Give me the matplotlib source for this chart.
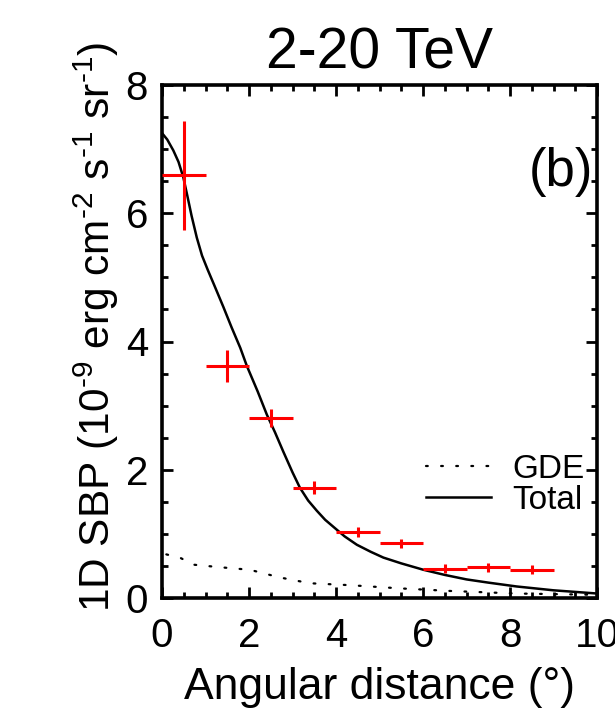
import matplotlib
matplotlib.use("Agg")
import matplotlib.pyplot as plt
from matplotlib.ticker import MultipleLocator

plt.rcParams['font.family'] = ['Liberation Sans', 'DejaVu Sans']
plt.rcParams['mathtext.fontset'] = 'custom'
plt.rcParams['mathtext.rm'] = 'Liberation Sans'
plt.rcParams['mathtext.it'] = 'Liberation Sans'

# Measured surface brightness profile (bin centres, half widths, values, errors)
data_x = [0.5, 1.5, 2.5, 3.5, 4.5, 5.5, 6.5, 7.5, 8.5]
data_xerr = [0.5, 0.5, 0.5, 0.5, 0.5, 0.5, 0.5, 0.5, 0.5]
data_y = [6.59, 3.62, 2.81, 1.72, 1.03, 0.85, 0.46, 0.48, 0.44]
data_yerr = [0.85, 0.25, 0.14, 0.10, 0.08, 0.07, 0.07, 0.07, 0.07]

# Model curves
total_x = [0.0, 0.12, 0.26, 0.38, 0.49, 0.58, 0.68, 0.80, 0.92, 1.05, 1.2,
           1.41, 1.6, 1.8, 1.95, 2.2, 2.41, 2.6, 2.79, 3.0, 3.17, 3.36,
           3.56, 3.75, 3.94, 4.2, 4.48, 4.8, 5.09, 5.5, 6.01, 6.5, 7.0,
           7.5, 8.15, 9.0, 10.0]
total_y = [7.25, 7.15, 6.98, 6.80, 6.56, 6.28, 5.96, 5.62, 5.34, 5.12, 4.88,
           4.54, 4.22, 3.90, 3.62, 3.22, 2.86, 2.58, 2.28, 1.96, 1.72, 1.52,
           1.36, 1.22, 1.11, 0.96, 0.83, 0.72, 0.63, 0.54, 0.44, 0.36, 0.29,
           0.24, 0.18, 0.12, 0.07]

gde_x = [0.1, 0.41, 0.72, 1.33, 2.02, 2.71, 3.4, 4.32, 5.47, 6.62, 8.15, 10.0]
gde_y = [0.68, 0.63, 0.52, 0.48, 0.44, 0.32, 0.23, 0.20, 0.15, 0.11, 0.07, 0.05]

fig = plt.figure(figsize=(6.15, 7.15), dpi=100)
ax = fig.add_axes([162 / 615, 1 - 598 / 715, (597 - 162) / 615, (598 - 85) / 715])

ax.errorbar(data_x, data_y, xerr=data_xerr, yerr=data_yerr, fmt='none',
            ecolor='#ff0000', elinewidth=2.2, capsize=0, zorder=3)
ax.plot(gde_x, gde_y, color='black', lw=1.6, linestyle=(0, (0.8, 6)),
        dash_capstyle='round', label='GDE')
ax.plot(total_x, total_y, color='black', lw=1.8, label='Total')

ax.set_xlim(0, 10)
ax.set_ylim(0, 8)
ax.xaxis.set_major_locator(MultipleLocator(2))
ax.xaxis.set_minor_locator(MultipleLocator(0.5))
ax.yaxis.set_major_locator(MultipleLocator(2))
ax.yaxis.set_minor_locator(MultipleLocator(0.5))
ax.tick_params(which='both', direction='in', top=True, right=True,
               width=2.0, labelsize=29)
ax.tick_params(which='major', length=8)
ax.tick_params(which='minor', length=4)
ax.tick_params(axis='x', pad=14)
ax.tick_params(axis='y', pad=10)
for s in ax.spines.values():
    s.set_linewidth(2.6)

ax.set_title('2-20 TeV', fontsize=41, pad=12)
ax.set_xlabel('Angular distance (°)', fontsize=32, labelpad=8)
ax.set_ylabel('1D SBP (10$^{\u2010 9}$ erg cm$^{\u2010 2}$ s$^{\u2010 1}$ sr$^{\u2010 1}$)',
              fontsize=30.5)
ax.yaxis.set_label_coords(-0.095, 0.528)

ax.text(9.92, 6.65, '(b)', fontsize=38, ha='right', va='center')

ax.legend(loc='center right', bbox_to_anchor=(1.01, 0.22), frameon=False,
          fontsize=24, handlelength=1.95, handletextpad=0.65,
          labelspacing=0.0, borderpad=0)

fig.savefig('out.png', dpi=100)
